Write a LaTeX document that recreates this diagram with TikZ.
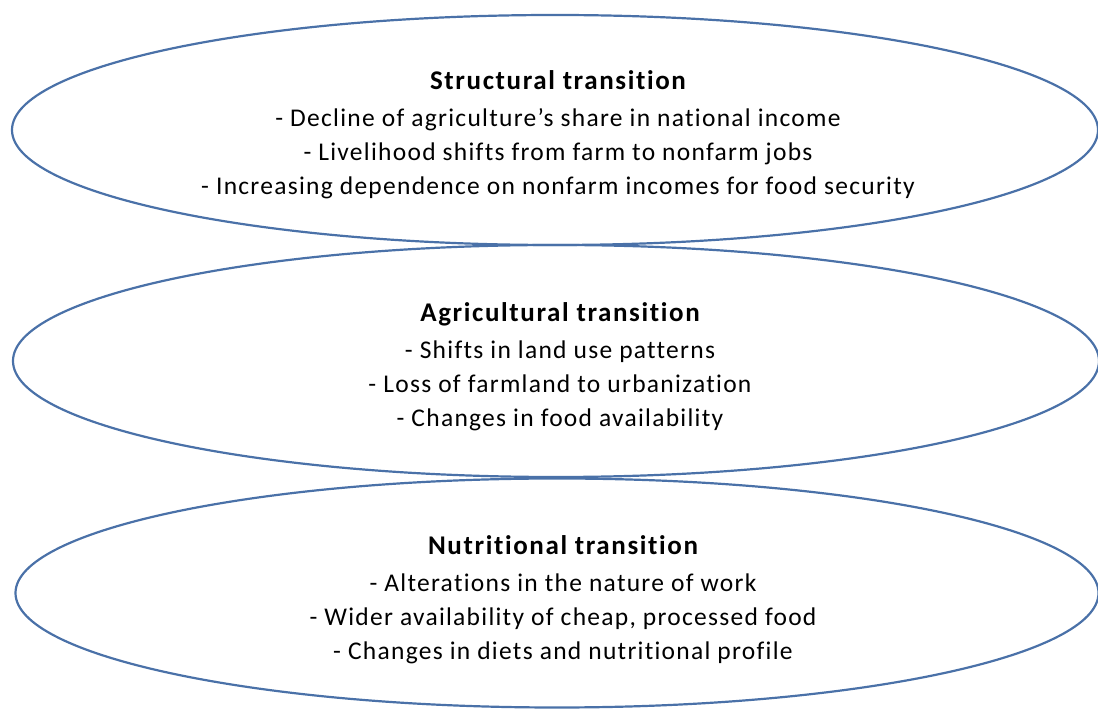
\documentclass[tikz,border=0pt]{standalone}
\usepackage{fontspec}
\setmainfont[Ligatures=NoCommon,LetterSpace=5]{Carlito}
\newfontfamily\titlefont[Ligatures=NoCommon,LetterSpace=6]{Carlito}
\usetikzlibrary{shapes.geometric}
\definecolor{ringblue}{HTML}{4A71A8}
\begin{document}
\begin{tikzpicture}[x=1pt,y=1pt,
  ring/.style={ellipse,draw=ringblue,line width=2.2pt,inner sep=0pt},
  label/.style={align=center,font=\fontsize{25.5}{34}\selectfont,text=black,inner sep=0pt}]
\useasboundingbox (0,0) rectangle (1098,709);
\node[ring,minimum width=1086pt,minimum height=230pt] (e1) at (555,579) {};
\node[ring,minimum width=1086pt,minimum height=232pt] (e2) at (556,348) {};
\node[ring,minimum width=1083pt,minimum height=229pt] (e3) at (557,116) {};
\node[label] (t1) at (558,574) {{\titlefont\bfseries\fontsize{27}{34}\selectfont Structural transition}\\[3pt]
- Decline of agriculture’s share in national income\\
- Livelihood shifts from farm to nonfarm jobs\\
- Increasing dependence on nonfarm incomes for food security};
\node[label] (t2) at (560,342.5) {{\titlefont\bfseries\fontsize{27}{34}\selectfont Agricultural transition}\\[3pt]
- Shifts in land use patterns\\
- Loss of farmland to urbanization\\
- Changes in food availability};
\node[label] (t3) at (563,109) {{\titlefont\bfseries\fontsize{27}{34}\selectfont Nutritional transition}\\[3pt]
- Alterations in the nature of work\\
- Wider availability of cheap, processed food\\
- Changes in diets and nutritional profile};
\end{tikzpicture}
\end{document}
